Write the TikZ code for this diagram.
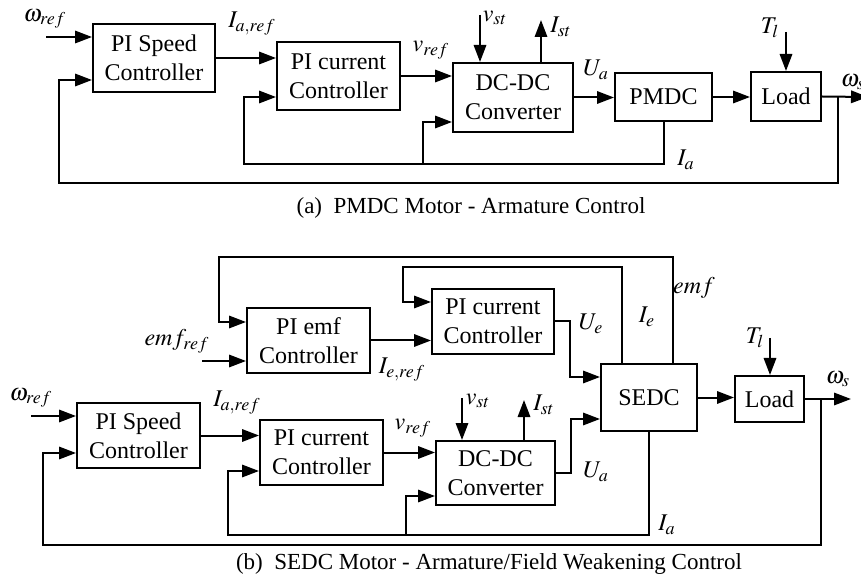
\documentclass[tikz,border=0pt]{standalone}
\usepackage{mathptmx}
\usepackage[no-math]{fontspec}
\setmainfont{Liberation Serif}
\usetikzlibrary{arrows.meta}

\tikzset{
  bloque/.style={draw, line width=1pt, align=center, inner sep=0pt, font=\fontsize{12}{14.5}\selectfont},
  flecha/.style={line width=1pt, -{Triangle[length=8.5pt,width=6.2pt]}},
  etiq/.style={inner sep=0pt, font=\fontsize{12}{14}\selectfont},
  leyenda/.style={inner sep=0pt, font=\fontsize{11.5}{14}\selectfont},
}

\begin{document}
\begin{tikzpicture}[x=0.5pt, y=-0.5pt]
            \useasboundingbox (0,0) rectangle (861,587);

            % (a) Bloques del motor PMDC
            \node[bloque, minimum width=61pt, minimum height=34pt] (spdA) at (154,58) {PI Speed\\Controller};
            \node[bloque, minimum width=61.5pt, minimum height=34pt] (curA) at (338.5,76) {PI current\\Controller};
            \node[bloque, minimum width=60pt, minimum height=34.5pt] (dcA) at (513,97.5) {DC-DC\\Converter};
            \node[bloque, minimum width=48.5pt, minimum height=24pt] (pmdc) at (663.5,97) {PMDC};
            \node[bloque, minimum width=35pt, minimum height=24.5pt] (loadA) at (786,96.5) {Load};

            % (a) Puntos libres
            \coordinate (wrefA) at (46,37);
            \coordinate (wsA) at (868,97);
            \coordinate (jA) at (838,97);
            \coordinate (fbA) at (59,80);
            \coordinate (fbcA) at (244,97);
            \coordinate (jiA) at (423,163);
            \coordinate (fbdA) at (423,122);
            \coordinate (tlA) at (786,32);
            \coordinate (vstA) at (480,15);
            \coordinate (istA) at (541,20);

            % (a) Cadena directa
            \draw[flecha] (wrefA) -- (wrefA -| spdA.west);
            \draw[flecha] (spdA.east) -- (spdA.east -| curA.west);
            \draw[flecha] (curA.east) -- (curA.east -| dcA.west);
            \draw[flecha] (dcA.east) -- (dcA.east -| pmdc.west);
            \draw[flecha] (pmdc.east) -- (pmdc.east -| loadA.west);
            \draw[flecha] (loadA.east) -- (wsA);
            \draw[flecha] (tlA) -- (tlA |- loadA.north);
            \draw[flecha] (vstA) -- (vstA |- dcA.north);
            \draw[flecha] (istA |- dcA.north) -- (istA);

            % (a) Lazos de realimentación
            \draw[flecha] (jA) -- ++(0,86) -| (fbA) -- (fbA -| spdA.west);
            \draw[flecha] (pmdc.south) -- ++(0,42) -| (fbcA) -- (fbcA -| curA.west);
            \draw[flecha] (jiA) -- (fbdA) -- (fbdA -| dcA.west);

            % (a) Etiquetas
            \node[etiq] (lwrefA) at (45,19) {$\omega_{ref}$};
            \node[etiq] (liarefA) at (252,24) {$I_{a,ref}$};
            \node[etiq] (lvrefA) at (431,50) {$v_{ref}$};
            \node[etiq] (lvstA) at (495,18) {$v_{st}$};
            \node[etiq] (listA) at (561,27) {$I_{st}$};
            \node[etiq] (luaA) at (596,70) {$U_a$};
            \node[etiq] (liaA) at (686,160) {$I_a$};
            \node[etiq] (ltlA) at (770,28) {$T_l$};
            \node[etiq] (lwsA) at (853,82) {$\omega_s$};
            \node[leyenda] (capA) at (471,208) {(a)\ \ PMDC Motor - Armature Control};

            % (b) Bloques del motor SEDC
            \node[bloque, minimum width=61.5pt, minimum height=32.5pt] (emfB) at (308.5,340.5) {PI emf\\Controller};
            \node[bloque, minimum width=61pt, minimum height=32.5pt] (curE) at (493,321.5) {PI current\\Controller};
            \node[bloque, minimum width=48pt, minimum height=33.5pt] (sedc) at (649,397.5) {SEDC};
            \node[bloque, minimum width=34.5pt, minimum height=23pt] (loadB) at (769.5,399) {Load};
            \node[bloque, minimum width=61.5pt, minimum height=32.5pt] (spdB) at (138.5,435.5) {PI Speed\\Controller};
            \node[bloque, minimum width=61.5pt, minimum height=32.5pt] (curB) at (321.5,452.5) {PI current\\Controller};
            \node[bloque, minimum width=59.5pt, minimum height=32pt] (dcB) at (495.5,473) {DC-DC\\Converter};

            % (b) Puntos libres
            \coordinate (emfref) at (202,361);
            \coordinate (fbeB) at (219,322);
            \coordinate (fbiB) at (403,302);
            \coordinate (ueB) at (570,377);
            \coordinate (uaB) at (571,419);
            \coordinate (wsB) at (851,399);
            \coordinate (jB) at (821,399);
            \coordinate (fbB) at (43,453);
            \coordinate (fbcB) at (228,471);
            \coordinate (jiB) at (406,534);
            \coordinate (fbdB) at (406,496);
            \coordinate (wrefB) at (31,416);
            \coordinate (tlB) at (770,338);
            \coordinate (vstB) at (462,398);
            \coordinate (istB) at (524,400);

            % (b) Lazo de campo
            \draw[flecha] ([xshift=12pt]sedc.north) -- ++(0,-106) -| (fbeB) -- (fbeB -| emfB.west);
            \draw[flecha] ([xshift=-13.5pt]sedc.north) -- ++(0,-96) -| (fbiB) -- (fbiB -| curE.west);
            \draw[flecha] (emfref) -- (emfref -| emfB.west);
            \draw[flecha] (emfB.east) -- (emfB.east -| curE.west);
            \draw[flecha] (curE.east) -| (ueB) -- (ueB -| sedc.west);

            % (b) Cadena de armadura
            \draw[flecha] (wrefB) -- (wrefB -| spdB.west);
            \draw[flecha] (spdB.east) -- (spdB.east -| curB.west);
            \draw[flecha] (curB.east) -- (curB.east -| dcB.west);
            \draw[flecha] (dcB.east) -| (uaB) -- (uaB -| sedc.west);
            \draw[flecha] (vstB) -- (vstB |- dcB.north);
            \draw[flecha] (istB |- dcB.north) -- (istB);
            \draw[flecha] (sedc.east) -- (sedc.east -| loadB.west);
            \draw[flecha] (loadB.east) -- (wsB);
            \draw[flecha] (tlB) -- (tlB |- loadB.north);

            % (b) Lazos de realimentación
            \draw[flecha] (jB) -- ++(0,146) -| (fbB) -- (fbB -| spdB.west);
            \draw[flecha] (sedc.south) -- ++(0,103) -| (fbcB) -- (fbcB -| curB.west);
            \draw[flecha] (jiB) -- (fbdB) -- (fbdB -| dcB.west);

            % (b) Etiquetas
            \node[etiq] (lemfref) at (177,341) {$emf_{ref}$};
            \node[etiq] (lierefB) at (402,370) {$I_{e,ref}$};
            \node[etiq] (lueB) at (591,324) {$U_e$};
            \node[etiq] (lieB) at (647,317) {$I_e$};
            \node[etiq] (lemfB) at (694,288) {$emf$};
            \node[etiq] (lwrefB) at (31,398) {$\omega_{ref}$};
            \node[etiq] (liarefB) at (237,403) {$I_{a,ref}$};
            \node[etiq] (lvrefB) at (413,428) {$v_{ref}$};
            \node[etiq] (lvstB) at (478,401) {$v_{st}$};
            \node[etiq] (listB) at (544,405) {$I_{st}$};
            \node[etiq] (luaB) at (596,472) {$U_a$};
            \node[etiq] (liaB) at (667,525) {$I_a$};
            \node[etiq] (ltlB) at (755,338) {$T_l$};
            \node[etiq] (lwsB) at (838,379) {$\omega_s$};
            \node[leyenda] (capB) at (489,564) {(b)\ \ SEDC Motor - Armature/Field Weakening Control};
\end{tikzpicture}
\end{document}
